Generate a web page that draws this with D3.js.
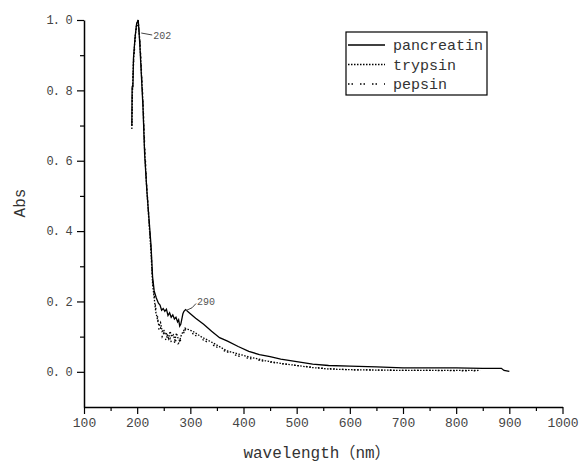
<!DOCTYPE html>
<meta charset="utf-8">
<script src="https://d3js.org/d3.v7.min.js"></script>
<style>
  body { margin: 0; background: #fff; }
  text { font-family: "Liberation Mono", "Noto Sans CJK SC", monospace; }
</style>

<div id="my_dataviz"></div>

<script>

    // data
    var pancreatinWl = [190, 190.5, 192, 193, 196, 199, 202, 205, 208, 211, 214, 218, 222, 226, 229, 232, 236, 240, 243, 246, 249, 252, 255, 258, 261, 264, 267, 270, 273, 276, 278, 280, 282, 284, 286, 288, 291, 300, 310, 325, 340, 355, 370, 390, 410, 430, 450, 470, 500, 530, 560, 600, 650, 700, 750, 800, 850, 885, 890, 900];
    var pancreatinAbs = [0.70, 0.81, 0.81, 0.89, 0.95, 0.99, 1.00, 0.93, 0.84, 0.75, 0.62, 0.52, 0.44, 0.36, 0.27, 0.23, 0.21, 0.195, 0.19, 0.175, 0.18, 0.172, 0.178, 0.16, 0.168, 0.155, 0.162, 0.15, 0.155, 0.142, 0.148, 0.13, 0.135, 0.15, 0.165, 0.172, 0.177, 0.165, 0.152, 0.135, 0.115, 0.097, 0.087, 0.072, 0.058, 0.049, 0.043, 0.036, 0.029, 0.022, 0.018, 0.016, 0.014, 0.011, 0.011, 0.011, 0.010, 0.010, 0.004, 0.001];

    var trypsinWl = [190, 191, 193, 196, 199, 202, 205, 208, 211, 214, 218, 222, 226, 229, 232, 235, 238, 241, 244, 247, 250, 253, 256, 259, 262, 265, 268, 271, 274, 277, 280, 282, 284, 287, 290, 305, 320, 343, 368, 406, 440, 470, 500, 530, 560, 600, 650, 700, 750, 800, 845];
    var trypsinAbs = [0.69, 0.79, 0.88, 0.95, 0.99, 1.0, 0.94, 0.85, 0.76, 0.63, 0.52, 0.43, 0.34, 0.25, 0.21, 0.17, 0.15, 0.13, 0.14, 0.115, 0.12, 0.105, 0.11, 0.095, 0.115, 0.10, 0.105, 0.09, 0.11, 0.095, 0.088, 0.10, 0.108, 0.115, 0.124, 0.115, 0.100, 0.082, 0.060, 0.044, 0.032, 0.024, 0.018, 0.012, 0.008, 0.006, 0.005, 0.004, 0.004, 0.004, 0.004];

    var pepsinWl = [190, 191, 193, 196, 199, 202, 205, 208, 211, 214, 218, 222, 226, 229, 232, 235, 238, 241, 244, 247, 250, 253, 256, 259, 262, 265, 268, 271, 274, 277, 280, 283, 286, 290, 300, 315, 335, 360, 390, 420, 460, 500, 550, 600, 650, 700, 750, 800, 840];
    var pepsinAbs = [0.70, 0.80, 0.87, 0.94, 0.98, 0.99, 0.95, 0.86, 0.77, 0.65, 0.53, 0.44, 0.35, 0.26, 0.22, 0.18, 0.16, 0.12, 0.125, 0.10, 0.11, 0.09, 0.10, 0.085, 0.095, 0.08, 0.09, 0.082, 0.095, 0.08, 0.085, 0.095, 0.105, 0.12, 0.113, 0.098, 0.082, 0.062, 0.045, 0.035, 0.025, 0.018, 0.010, 0.006, 0.005, 0.004, 0.004, 0.003, 0.003];

    var seriesNames = ["pancreatin", "trypsin", "pepsin"];
    var xTicks = [100, 200, 300, 400, 500, 600, 700, 800, 900, 1000];
    var yTicks = [0.0, 0.2, 0.4, 0.6, 0.8, 1.0];
    var peakLabels = [{wl: 202, abs: 1.0, text: "202"}, {wl: 290, abs: 0.177, text: "290"}];

    var W = 582, H = 462;

    var svg = d3.select("#my_dataviz")
      .append("svg")
        .attr("width", W)
        .attr("height", H);

    // scales
    var x = d3.scaleLinear().domain([100, 1000]).range([84, 562.5]);
    var y = d3.scaleLinear().domain([-0.1, 1.0]).range([407, 20]);

    // X axis, major + minor ticks
    var xAxis = svg.append("g")
      .attr("transform", "translate(0," + y(-0.1) + ")")
      .call(d3.axisBottom(x).tickValues(xTicks).tickSize(7).tickSizeOuter(0).tickPadding(4).tickFormat(d3.format("d")));
    svg.append("g")
      .attr("transform", "translate(0," + y(-0.1) + ")")
      .call(d3.axisBottom(x).tickValues(xTicks.slice(0, -1).map(function(d) { return d + 50; })).tickSize(4).tickFormat(""))
      .select(".domain").remove();

    // Y axis
    var yAxis = svg.append("g")
      .attr("transform", "translate(" + x(100) + ",0)")
      .call(d3.axisLeft(y).tickValues(yTicks).tickSize(7).tickSizeOuter(0).tickPadding(5)
        .tickFormat(function(d) { return d3.format(".1f")(d).replace(".", ". "); }));
    svg.append("g")
      .attr("transform", "translate(" + x(100) + ",0)")
      .call(d3.axisLeft(y).tickValues(yTicks.slice(0, -1).map(function(d) { return d + 0.1; })).tickSize(4).tickFormat(""))
      .select(".domain").remove();

    svg.selectAll(".domain").attr("stroke", "#000").attr("stroke-width", 1.5);
    svg.selectAll(".tick line").attr("stroke", "#000").attr("stroke-width", 1.2);
    xAxis.selectAll("text").style("font-size", "13px").attr("fill", "#444");
    yAxis.selectAll("text").style("font-size", "12px").style("letter-spacing", "-0.8px").attr("fill", "#444");

    // lines
    var line = d3.line()
      .x(function(d) { return x(d[0]); })
      .y(function(d) { return y(d[1]); });

    var series = [
      {wl: pancreatinWl, abs: pancreatinAbs, dash: null, w: 1.3},
      {wl: trypsinWl, abs: trypsinAbs, dash: "1.5,1.5", w: 1.3},
      {wl: pepsinWl, abs: pepsinAbs, dash: "1.5,2,1.5,7", w: 1.3}
    ];

    series.forEach(function(s) {
      svg.append("path")
        .datum(d3.zip(s.wl, s.abs))
        .attr("fill", "none")
        .attr("stroke", "#000")
        .attr("stroke-width", s.w)
        .attr("stroke-dasharray", s.dash)
        .attr("d", line);
    });

    // peak labels
    svg.append("path")
      .attr("d", "M" + (x(peakLabels[0].wl) + 3) + "," + (y(peakLabels[0].abs) + 13) + " L" + (x(peakLabels[0].wl) + 14) + "," + (y(peakLabels[0].abs) + 15))
      .attr("stroke", "#444").attr("fill", "none");
    svg.append("text")
      .attr("x", x(peakLabels[0].wl) + 15).attr("y", y(peakLabels[0].abs) + 19)
      .text(peakLabels[0].text).style("font-size", "10px").attr("fill", "#555");

    svg.append("path")
      .attr("d", "M" + (x(peakLabels[1].wl) + 1) + "," + (y(peakLabels[1].abs) + 1) + " Q" + (x(peakLabels[1].wl) + 8) + "," + (y(peakLabels[1].abs) - 1) + " " + (x(peakLabels[1].wl) + 11) + "," + (y(peakLabels[1].abs) - 6))
      .attr("stroke", "#444").attr("fill", "none");
    svg.append("text")
      .attr("x", x(peakLabels[1].wl) + 12).attr("y", y(peakLabels[1].abs) - 5)
      .text(peakLabels[1].text).style("font-size", "10px").attr("fill", "#555");

    // legend
    var lg = svg.append("g");
    lg.append("rect")
      .attr("x", 346).attr("y", 32).attr("width", 141).attr("height", 63)
      .attr("fill", "#fff").attr("stroke", "#000").attr("stroke-width", 1.2);
    seriesNames.forEach(function(name, i) {
      var yy = 45 + i * 19.5;
      lg.append("line")
        .attr("x1", 348).attr("x2", 385).attr("y1", yy).attr("y2", yy)
        .attr("stroke", "#000").attr("stroke-width", 1.3)
        .attr("stroke-dasharray", series[i].dash);
      lg.append("text")
        .attr("x", 393).attr("y", yy + 5)
        .text(name).style("font-size", "15px").attr("fill", "#333");
    });

    // axis titles
    svg.append("text")
      .attr("x", 317).attr("y", 458).attr("text-anchor", "middle")
      .text("wavelength（nm）").style("font-size", "16px").attr("fill", "#333");
    svg.append("text")
      .attr("transform", "translate(25,203)rotate(-90)").attr("text-anchor", "middle")
      .text("Abs").style("font-size", "16px").attr("fill", "#333");
</script>
